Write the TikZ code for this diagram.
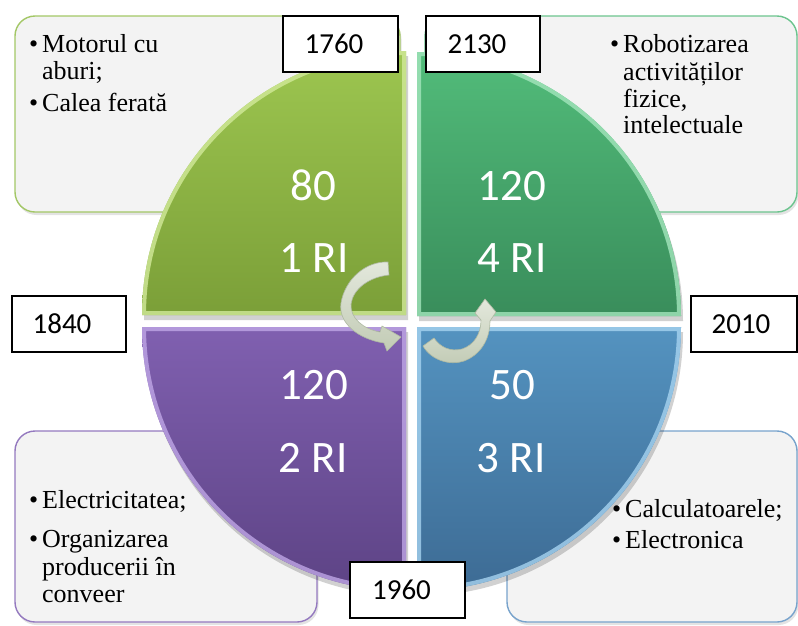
\documentclass[tikz,border=0pt]{standalone}
\usepackage{fontspec}
\setmainfont{Liberation Serif}
\newfontfamily\calfont{Carlito}
\usetikzlibrary{shadows}
\definecolor{boxfill}{HTML}{F3F3F3}
\definecolor{bdTL}{HTML}{A3C766}
\definecolor{bdTR}{HTML}{6CC48E}
\definecolor{bdBL}{HTML}{9479BF}
\definecolor{bdBR}{HTML}{78A3CC}
\definecolor{gAtop}{HTML}{9DC650}
\definecolor{gAbot}{HTML}{7B9F38}
\definecolor{gAedge}{HTML}{D2EA9A}
\definecolor{gBtop}{HTML}{52BC7A}
\definecolor{gBbot}{HTML}{398D5B}
\definecolor{gBedge}{HTML}{A4E6BD}
\definecolor{pAtop}{HTML}{8060B0}
\definecolor{pAbot}{HTML}{5D4385}
\definecolor{pAedge}{HTML}{BFA6E6}
\definecolor{bAtop}{HTML}{5493C0}
\definecolor{bAbot}{HTML}{3D6B94}
\definecolor{bAedge}{HTML}{A6D3F0}
\definecolor{arrtop}{HTML}{E3E8DC}
\definecolor{arrbot}{HTML}{C2CBB5}
\definecolor{arredge}{HTML}{AEB9A2}
\begin{document}
\begin{tikzpicture}[x=1pt,y=-1pt,
  txtbox/.style={draw=#1, line width=1.4pt, fill=boxfill, rounded corners=20pt,
    drop shadow={shadow xshift=1.5pt, shadow yshift=-3pt, opacity=0.22}},
  yearbox/.style={draw=black, line width=1.3pt, fill=white, inner sep=0pt,
    minimum height=56pt, font=\calfont\fontsize{29}{29}\selectfont},
  numtxt/.style={text=white, anchor=base, inner sep=0pt,
    font=\calfont\fontsize{45}{45}\selectfont},
  itemtxt/.style={anchor=base west, inner sep=0pt, font=\fontsize{26}{27}\selectfont},
  qshadow/.style={fill=black, opacity=0.18},
  arrowshape/.style={top color=arrtop, bottom color=arrbot, draw=arredge, line width=0.6pt}
]
\path[use as bounding box] (0,0) rectangle (798,625);

% ---------- text boxes ----------
\path[txtbox=bdTL] (15,16) rectangle (400,212);
\path[txtbox=bdTR] (425,16) rectangle (797,212);
\path[txtbox=bdBL] (15,431) rectangle (317,622);
\path[txtbox=bdBR] (507,431) rectangle (797,622);

\newcommand\bul{\makebox[13pt][l]{•}}
\node[itemtxt] (tla) at (29,52) {\bul Motorul cu};
\node[itemtxt] (tlb) at (42,79) {aburi;};
\node[itemtxt] (tlc) at (29,111) {\bul Calea ferată};

\node[itemtxt] (tra) at (610,52) {\bul Robotizarea};
\node[itemtxt] (trb) at (623,80) {activităților};
\node[itemtxt] (trc) at (623,107) {fizice,};
\node[itemtxt] (trd) at (623,133) {intelectuale};

\node[itemtxt] (bla) at (29,508) {\bul Electricitatea;};
\node[itemtxt] (blb) at (29,547) {\bul Organizarea};
\node[itemtxt] (blc) at (42,575) {producerii în};
\node[itemtxt] (bld) at (42,602) {conveer};

\node[itemtxt] (bra) at (612,517) {\bul Calculatoarele;};
\node[itemtxt] (brb) at (612,548) {\bul Electronica};

% ---------- quadrant shadows ----------
\fill[qshadow] (408,320) -- (144,320) arc[start angle=180,end angle=90,radius=264pt] -- cycle;
\fill[qshadow] (419,321) -- (419,57) arc[start angle=90,end angle=0,radius=264pt] -- cycle;
\fill[qshadow] (408,332) -- (408,596) arc[start angle=270,end angle=180,radius=264pt] -- cycle;
\fill[qshadow] (419,332) -- (683,332) arc[start angle=0,end angle=-90,radius=264pt] -- cycle;

% ---------- quadrants ----------
% top left (green)
\shade[top color=gAtop, bottom color=gAbot] (406,315) -- (142,315) arc[start angle=180,end angle=90,radius=264pt] -- cycle;
\begin{scope}
  \clip (406,315) -- (142,315) arc[start angle=180,end angle=90,radius=264pt] -- cycle;
  \draw[gAedge, line width=8pt, opacity=0.8] (406,315) -- (142,315) arc[start angle=180,end angle=90,radius=264pt] -- cycle;
\end{scope}
% top right (green)
\shade[top color=gBtop, bottom color=gBbot] (417,316) -- (417,52) arc[start angle=90,end angle=0,radius=264pt] -- cycle;
\begin{scope}
  \clip (417,316) -- (417,52) arc[start angle=90,end angle=0,radius=264pt] -- cycle;
  \draw[gBedge, line width=8pt, opacity=0.8] (417,316) -- (417,52) arc[start angle=90,end angle=0,radius=264pt] -- cycle;
\end{scope}
% bottom left (purple)
\shade[top color=pAtop, bottom color=pAbot] (406,327) -- (406,591) arc[start angle=270,end angle=180,radius=264pt] -- cycle;
\begin{scope}
  \clip (406,327) -- (406,591) arc[start angle=270,end angle=180,radius=264pt] -- cycle;
  \draw[pAedge, line width=8pt, opacity=0.8] (406,327) -- (406,591) arc[start angle=270,end angle=180,radius=264pt] -- cycle;
\end{scope}
% bottom right (blue)
\shade[top color=bAtop, bottom color=bAbot] (417,327) -- (681,327) arc[start angle=0,end angle=-90,radius=264pt] -- cycle;
\begin{scope}
  \clip (417,327) -- (681,327) arc[start angle=0,end angle=-90,radius=264pt] -- cycle;
  \draw[bAedge, line width=8pt, opacity=0.8] (417,327) -- (681,327) arc[start angle=0,end angle=-90,radius=264pt] -- cycle;
\end{scope}

% ---------- year boxes ----------
\node[yearbox, minimum width=115pt] (y1760) at (340.5,44) {1760\kern13pt};
\node[yearbox, minimum width=114pt] (y2130) at (483,44) {2130\kern12pt};
\node[yearbox, minimum width=114pt] (y1840) at (69,324) {1840\kern14pt};
\node[yearbox, minimum width=106pt] (y2010) at (744,324) {2010\kern6pt};
\node[yearbox, minimum width=115pt] (y1960) at (407.5,590) {1960\kern12pt};

% ---------- circular arrows ----------
\shadedraw[arrowshape] (388,262) .. controls (366,261) and (345,279) .. (341,303)
  .. controls (338,323) and (358,339) .. (384,343) -- (387,351) -- (401,337) -- (382,326)
  -- (380,332) .. controls (363,329) and (350,318) .. (351,304)
  .. controls (353,289) and (369,277) .. (389,275) -- cycle;
\shadedraw[arrowshape] (423,346) .. controls (431,360) and (450,366) .. (464,361)
  .. controls (480,355) and (490,340) .. (490,321) -- (496,312) -- (485,299) -- (475,313)
  -- (481,320) .. controls (481,334) and (474,345) .. (462,349)
  .. controls (450,352) and (440,347) .. (434,338) -- cycle;

% ---------- numbers ----------
\node[numtxt] (n80) at (313,200) {80};
\node[numtxt] (r1) at (314,272) {1 RI};
\node[numtxt] (n120a) at (512,200) {120};
\node[numtxt] (r4) at (512,272) {4 RI};
\node[numtxt] (n120b) at (314,399) {120};
\node[numtxt] (r2) at (313,472) {2 RI};
\node[numtxt] (n50) at (512,399) {50};
\node[numtxt] (r3) at (511,472) {3 RI};
\end{tikzpicture}
\end{document}
